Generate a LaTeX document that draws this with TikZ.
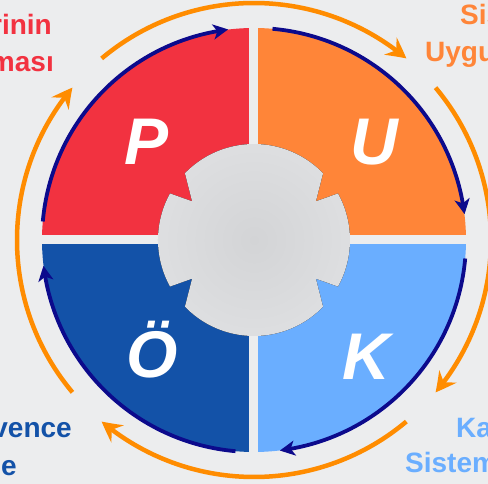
\documentclass[tikz,border=0pt]{standalone}
\usepackage{fontspec}
\setmainfont{Liberation Sans}
\usetikzlibrary{arrows.meta,bending}
\definecolor{bg}{RGB}{236,237,238}
\definecolor{pred}{RGB}{242,50,64}
\definecolor{porange}{RGB}{255,133,56}
\definecolor{pblue}{RGB}{106,174,255}
\definecolor{pdark}{RGB}{19,82,168}
\definecolor{navy}{RGB}{12,10,140}
\definecolor{ringor}{RGB}{255,140,0}
\definecolor{hubin}{RGB}{211,212,214}
\definecolor{hubout}{RGB}{222,223,225}
\begin{document}
\begin{tikzpicture}[x=1pt,y=1pt,
  ring/.style={line width=4.5pt,draw=ringor,-{Stealth[length=20pt,width=21pt,inset=7pt,bend]}},
  rim/.style={line width=3.8pt,draw=navy,-{Stealth[length=15pt,width=15pt,inset=4pt,bend]}},
  big/.style={text=white,font=\fontsize{66}{66}\selectfont\bfseries\itshape,inner sep=0pt,anchor=base},
  side/.style={font=\fontsize{28}{34}\selectfont\bfseries,inner sep=0pt}]
\useasboundingbox (-254,-244) rectangle (234,240);
\fill[bg] (-254,-244) rectangle (234,240);
% four quarters
\begin{scope}
\clip (0,0) circle (212);
\fill[pred] (-4.5,4.5) rectangle (-220,220);
\fill[porange] (4.5,4.5) rectangle (220,220);
\fill[pblue] (4.5,-4.5) rectangle (220,-220);
\fill[pdark] (-4.5,-4.5) rectangle (-220,-220);
\end{scope}
% hub with notches
\fill[inner color=hubin,outer color=hubout] (-29:96) arc[start angle=-29,end angle=29,radius=96]
  -- (32:73) -- (44:96) arc[start angle=44,end angle=136,radius=96]
  -- (148:73) -- (151:96) arc[start angle=151,end angle=209,radius=96]
  -- (212:73) -- (224:96) arc[start angle=224,end angle=316,radius=96]
  -- (328:73) -- cycle;
% rim arrows
\draw[rim] (175:212) arc[start angle=175,end angle=97,radius=212];
\draw[rim] (85:212) arc[start angle=85,end angle=7,radius=212];
\draw[rim] (-5:212) arc[start angle=-5,end angle=-83,radius=212];
\draw[rim] (-95:212) arc[start angle=-95,end angle=-173,radius=212];
% outer ring
\draw[ring] (130:237) arc[start angle=130,end angle=50,radius=237];
\draw[ring] (40:237) arc[start angle=40,end angle=-40,radius=237];
\draw[ring] (-50:237) arc[start angle=-50,end angle=-130,radius=237];
\draw[ring] (-140:237) arc[start angle=-140,end angle=-220,radius=237];
% letters
\node[big] (p) at (-107,75) {P};
\node[big] (u) at (120,75) {U};
\node[big] (o) at (-102,-138) {Ö};
\node[big] (k) at (112,-140) {K};
% corner texts
\node[side,text=pred,anchor=base east] (tl1) at (-202,205) {rinin};
\node[side,text=pred,anchor=base east] (tl2) at (-200,168) {ması};
\node[side,text=porange,anchor=base west] (tr1) at (206,215) {Sis};
\node[side,text=porange,anchor=base west] (tr2) at (171,178) {Uygu};
\node[side,text=pdark,anchor=base east] (bl1) at (-182,-198) {vence};
\node[side,text=pdark,anchor=base east] (bl2) at (-237,-236) {e};
\node[side,text=pblue,anchor=base west] (br1) at (202,-198) {Ka};
\node[side,text=pblue,anchor=base west] (br2) at (151,-233) {Sistem};
\end{tikzpicture}
\end{document}
